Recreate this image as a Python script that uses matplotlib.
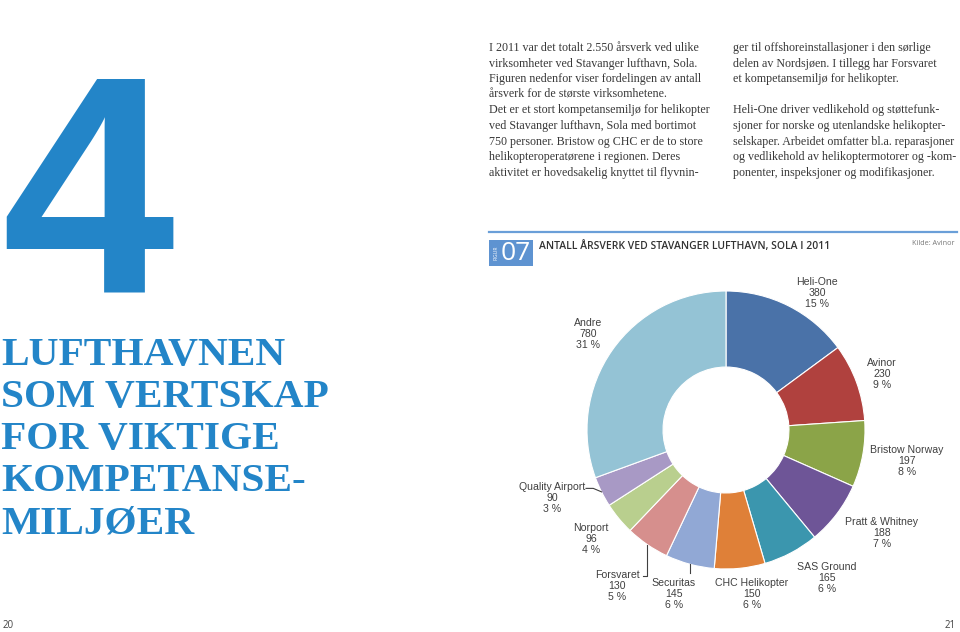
import matplotlib
matplotlib.use("Agg")
import matplotlib.pyplot as plt
import numpy as np

# ---------------- data ----------------
names = ["Heli-One", "Avinor", "Bristow Norway", "Pratt & Whitney", "SAS Ground",
         "CHC Helikopter", "Securitas", "Forsvaret", "Norport", "Quality Airport", "Andre"]
values = [380, 230, 197, 188, 165, 150, 145, 130, 96, 90, 780]
percents = [15, 9, 8, 7, 6, 6, 6, 5, 4, 3, 31]
colors = ["#4a72a8", "#b0413e", "#8ba448", "#6e5597", "#3b96ae", "#df8038",
          "#91a8d5", "#d68f8d", "#b9cf8e", "#a899c5", "#94c3d5"]

left_col = [
    "I 2011 var det totalt 2.550 årsverk ved ulike",
    "virksomheter ved Stavanger lufthavn, Sola.",
    "Figuren nedenfor viser fordelingen av antall",
    "årsverk for de største virksomhetene.",
    "Det er et stort kompetansemiljø for helikopter",
    "ved Stavanger lufthavn, Sola med bortimot",
    "750 personer. Bristow og CHC er de to store",
    "helikopteroperatørene i regionen. Deres",
    "aktivitet er hovedsakelig knyttet til flyvnin-",
]
right_col = [
    "ger til offshoreinstallasjoner i den sørlige",
    "delen av Nordsjøen. I tillegg har Forsvaret",
    "et kompetansemiljø for helikopter.",
    "",
    "Heli-One driver vedlikehold og støttefunk-",
    "sjoner for norske og utenlandske helikopter-",
    "selskaper. Arbeidet omfatter bl.a. reparasjoner",
    "og vedlikehold av helikoptermotorer og -kom-",
    "ponenter, inspeksjoner og modifikasjoner.",
]
chapter_title = ["LUFTHAVNEN", "SOM VERTSKAP", "FOR VIKTIGE", "KOMPETANSE-", "MILJØER"]
figure_title = "ANTALL ÅRSVERK VED STAVANGER LUFTHAVN, SOLA I 2011"

# ---------------- layout ----------------
W, H = 960, 632
fig = plt.figure(figsize=(W / 100, H / 100), dpi=100)
fig.patch.set_facecolor("white")


def P(x, y):
    return (x / W, 1 - y / H)


BLUE = "#2385c8"
TXT = "#383838"

# big chapter number
fig.text(*P(1, 293), "4", fontsize=224, family="Liberation Sans", weight="bold",
         color=BLUE, ha="left", va="baseline")

# chapter title
for i, line in enumerate(chapter_title):
    fig.text(*P(1, 365 + i * 42), line, fontsize=29.8, family="Liberation Serif",
             weight="bold", color=BLUE, ha="left", va="baseline")

# body text
for i, line in enumerate(left_col):
    fig.text(*P(489, 51 + i * 15.6), line, fontsize=8.65, family="Liberation Serif",
             color=TXT, ha="left", va="baseline")
for i, line in enumerate(right_col):
    if line:
        fig.text(*P(733, 51 + i * 15.6), line, fontsize=8.65, family="Liberation Serif",
                 color=TXT, ha="left", va="baseline")

# figure header
fig.add_artist(plt.Line2D([489 / W, 957 / W], [1 - 232 / H, 1 - 232 / H],
                          color="#6a9fd8", lw=1.6, transform=fig.transFigure))
fig.add_artist(plt.Rectangle(P(489, 266), 44 / W, 26 / H, color="#5e93d1",
                             transform=fig.transFigure, lw=0))
fig.text(*P(496, 253), "FIGUR", fontsize=3.6, color="white", rotation=90,
         ha="center", va="center", family="Open Sans")
fig.text(*P(516, 254), "07", fontsize=19, color="white", ha="center", va="center",
         family="Open Sans")
fig.text(*P(539, 247), figure_title, fontsize=7.5, color="#333333", ha="left",
         va="center", family="Open Sans", weight="semibold")
fig.text(*P(955, 243), "Kilde: Avinor", fontsize=5.2, color="#777777", ha="right",
         va="center", family="Open Sans")

# page numbers
fig.text(*P(3, 625), "20", fontsize=7, color="#444444", ha="left", va="center",
         family="Open Sans")
fig.text(*P(956, 625), "21", fontsize=7, color="#444444", ha="right", va="center",
         family="Open Sans")

# ---------------- donut ----------------
cx, cy, R = 726, 430, 139
ax = fig.add_axes([(cx - R) / W, 1 - (cy + R) / H, 2 * R / W, 2 * R / H])
ax.pie(values, colors=colors, startangle=90, counterclock=False, radius=1,
       wedgeprops=dict(width=0.547, edgecolor="white", linewidth=0.8))
ax.set_xlim(-1, 1)
ax.set_ylim(-1, 1)
ax.axis("off")

total = sum(values)
cum = np.cumsum([0] + values[:-1])
mid_deg = [(c + v / 2) / total * 360 for c, v in zip(cum, values)]

# label centres in units of the outer radius
label_pos = [(0.655, 0.986), (1.122, 0.403), (1.302, -0.223), (1.122, -0.741),
             (0.727, -1.065), (0.187, -1.180), (-0.374, -1.180), (-0.784, -1.122),
             (-0.971, -0.784), (-1.252, -0.489), (-0.993, 0.691)]

for name, v, pc, (lx, ly) in zip(names, values, percents, label_pos):
    ax.text(lx, ly, f"{name}\n{v}\n{pc} %", ha="center", va="center", fontsize=7.6,
            family="Liberation Sans", color="#404040", linespacing=1.18, clip_on=False)


def edge_pt(i):
    a = np.deg2rad(mid_deg[i])
    return np.sin(a), np.cos(a)

# leader lines
lc = dict(color="#404040", lw=0.8, clip_on=False)
qx, qy = edge_pt(names.index("Quality Airport"))
ax.plot([-1.007, -0.955, qx], [-0.42, -0.42, qy], **lc)
fx, fy = edge_pt(names.index("Forsvaret"))
ax.plot([-0.60, fx, fx], [-1.05, -1.05, fy], **lc)
sx, sy = edge_pt(names.index("Securitas"))
ax.plot([sx, sx], [sy, -1.03], **lc)

fig.savefig("out.png", dpi=100, facecolor="white")
